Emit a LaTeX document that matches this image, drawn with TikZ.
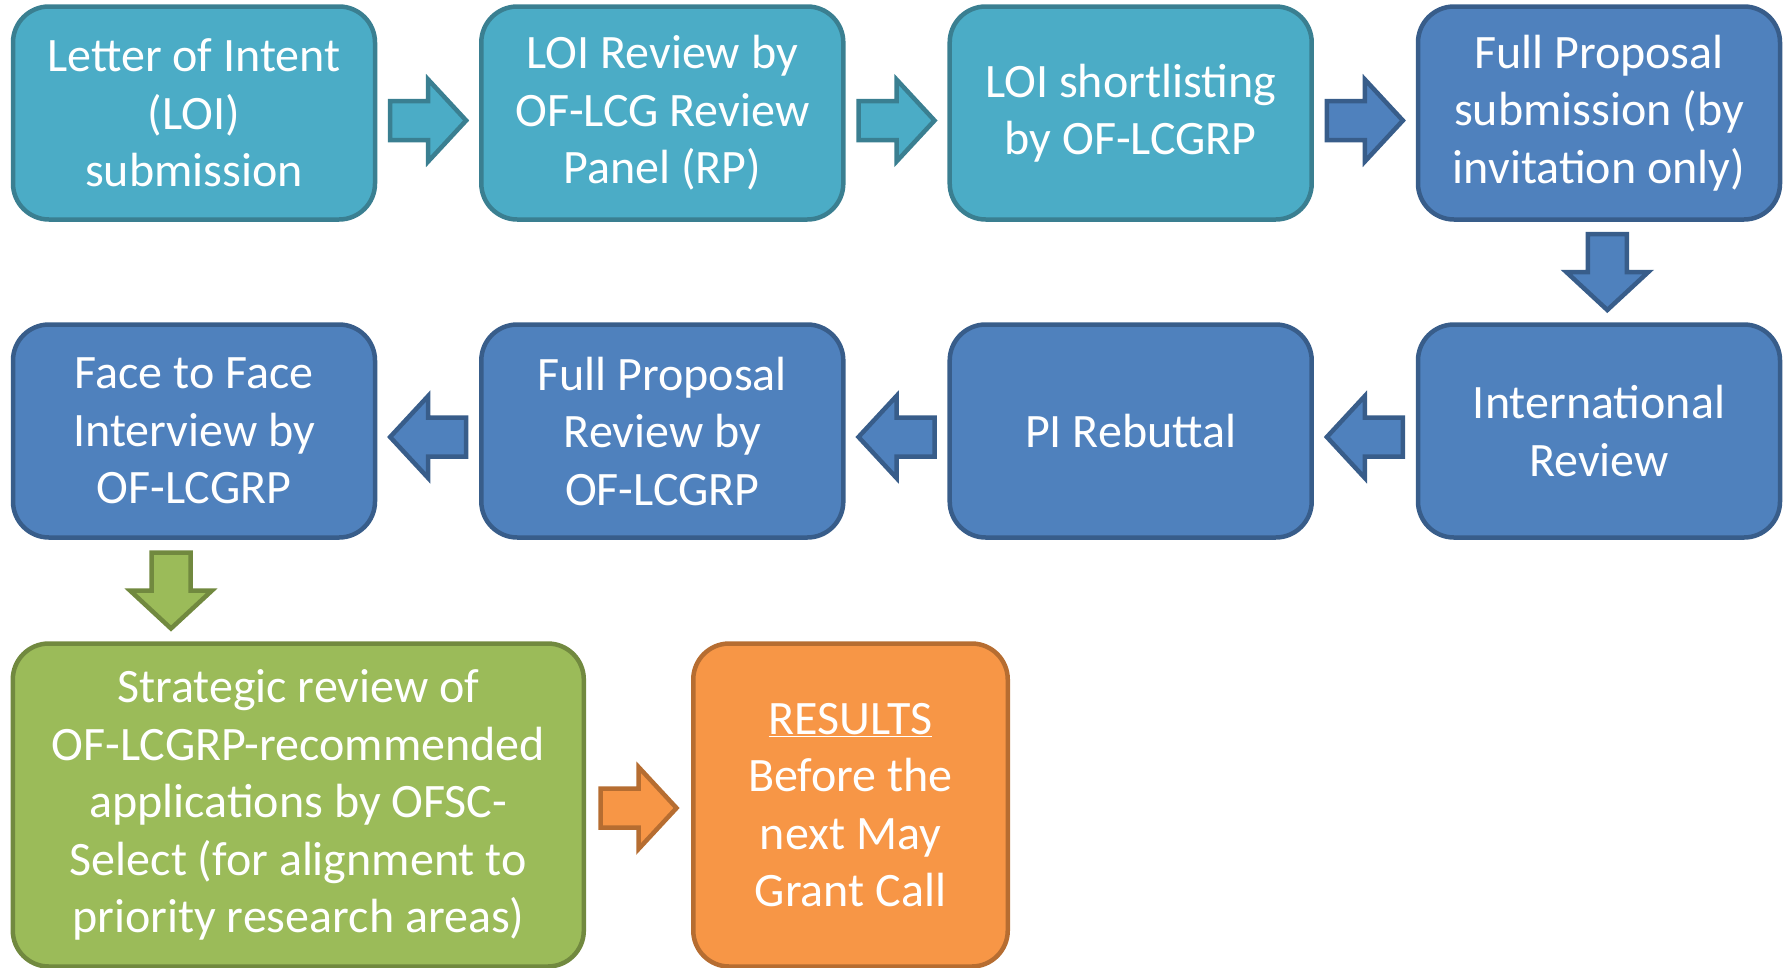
\documentclass[tikz,border=0pt]{standalone}
\usepackage{fontspec}
\setmainfont{Carlito}
\usetikzlibrary{calc}
\definecolor{tealF}{HTML}{4BACC6}
\definecolor{tealD}{HTML}{3A7F91}
\definecolor{blueF}{HTML}{4F81BD}
\definecolor{blueD}{HTML}{385D8A}
\definecolor{greenF}{HTML}{9BBB59}
\definecolor{greenD}{HTML}{71893F}
\definecolor{orangeF}{HTML}{F79646}
\definecolor{orangeD}{HTML}{B66D31}
\tikzset{
  stepbox/.style={rectangle, rounded corners=36pt, line width=4.5pt, text=white,
    align=center, inner sep=0pt, minimum width=362pt, minimum height=213pt,
    font=\fontsize{48}{57.5}\selectfont},
  tealbox/.style={stepbox, fill=tealF, draw=tealD},
  bluebox/.style={stepbox, fill=blueF, draw=blueD},
  tealarr/.style={fill=tealF, draw=tealD, line width=4.5pt},
  bluearr/.style={fill=blueF, draw=blueD, line width=4.5pt},
  greenarr/.style={fill=greenF, draw=greenD, line width=4.5pt},
  orangearr/.style={fill=orangeF, draw=orangeD, line width=4.5pt},
}
\newcommand\blockarr[3]{%
  \draw[#1, shift={(#2)}, rotate=#3] (-38,-19.5) -- (0,-19.5) -- (0,-41) -- (38,0)
    -- (0,41) -- (0,19.5) -- (-38,19.5) -- cycle;}
\begin{document}
\begin{tikzpicture}[x=1pt, y=-1pt]
\useasboundingbox (0,0) rectangle (1787,967);
% row 1
\node[tealbox] (b1) at (194,113) {Letter of Intent\\(LOI)\\submission};
\node[tealbox] (b2) at (662.3,113) {LOI Review by\\OF-LCG Review\\Panel (RP)};
\node[tealbox] (b3) at (1130.7,113) {LOI shortlisting\\by OF-LCGRP};
\node[bluebox] (b4) at (1599,113) {Full Proposal\\submission (by\\invitation only)};
% row 2
\node[bluebox] (b5) at (1599,431) {International\\Review};
\node[bluebox] (b6) at (1130.7,431) {PI Rebuttal};
\node[bluebox] (b7) at (662.3,431) {Full Proposal\\Review by\\OF-LCGRP};
\node[bluebox] (b8) at (194,431) {Face to Face\\Interview by\\OF-LCGRP};
% row 3
\node[stepbox, fill=greenF, draw=greenD, minimum width=571pt, minimum height=323pt]
  (b9) at (298.3,805) {Strategic review of\\OF-LCGRP-recommended\\applications by OFSC-\\Select (for alignment to\\priority research areas)};
\node[stepbox, fill=orangeF, draw=orangeD, minimum width=314.5pt, minimum height=323pt]
  (b10) at (850.5,805) {\underline{RESULTS}\\Before the\\next May\\Grant Call};
% arrow positions
\coordinate (a1) at ($(b1.east)!0.5!(b2.west)+(0,7.5)$);
\coordinate (a2) at ($(b2.east)!0.5!(b3.west)+(0,7.5)$);
\coordinate (a3) at ($(b3.east)!0.5!(b4.west)+(0,7.5)$);
\coordinate (a4) at ($(b4.south)!0.5!(b5.north)+(8.3,0)$);
\coordinate (a5) at ($(b5.west)!0.5!(b6.east)+(0,6)$);
\coordinate (a6) at ($(b6.west)!0.5!(b7.east)+(0,6)$);
\coordinate (a7) at ($(b7.west)!0.5!(b8.east)+(0,6)$);
\coordinate (a8) at ($(b8.south)!0.5!(b8.south |- b9.north)+(-23,0)$);
\coordinate (a9) at ($(b9.east)!0.5!(b10.west)+(0,3)$);
\blockarr{tealarr}{a1}{0}
\blockarr{tealarr}{a2}{0}
\blockarr{bluearr}{a3}{0}
\blockarr{bluearr}{a4}{-90}
\blockarr{bluearr}{a5}{180}
\blockarr{bluearr}{a6}{180}
\blockarr{bluearr}{a7}{180}
\blockarr{greenarr}{a8}{-90}
\blockarr{orangearr}{a9}{0}
\end{tikzpicture}
\end{document}
